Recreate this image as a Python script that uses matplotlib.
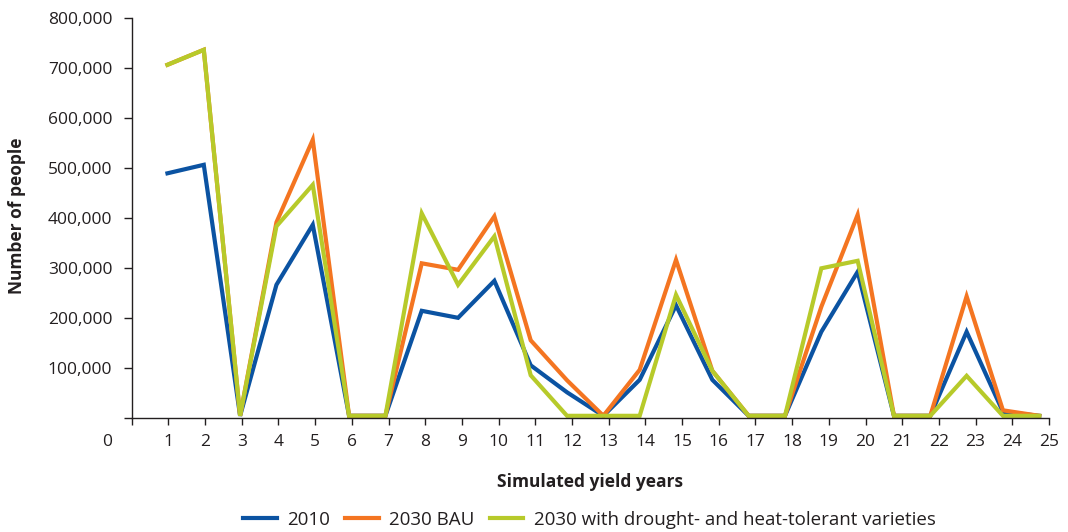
import numpy as np
import matplotlib
matplotlib.use('Agg')
import matplotlib.pyplot as plt
from matplotlib.ticker import FuncFormatter

years = np.arange(1, 26)

people_2010 = [490000, 507000, 5000, 267000, 387000, 5000, 5000, 215000, 201000, 275000,
               106000, 52000, 5000, 77000, 226000, 77000, 5000, 5000, 173000, 293000,
               5000, 5000, 173000, 13000, 5000]
people_2030_bau = [707000, 737000, 5000, 392000, 557000, 5000, 5000, 310000, 297000, 404000,
                   156000, 76000, 5000, 97000, 317000, 95000, 5000, 5000, 223000, 407000,
                   5000, 5000, 244000, 16000, 5000]
people_2030_tol = [707000, 737000, 5000, 384000, 467000, 5000, 5000, 410000, 267000, 364000,
                   86000, 5000, 5000, 5000, 247000, 95000, 5000, 5000, 300000, 315000,
                   5000, 5000, 85000, 5000, 5000]

series_names = ['2010', '2030 BAU', '2030 with drought- and heat-tolerant varieties']
colors = ['#0B53A2', '#F47521', '#B7CA2A']

plt.rcParams['font.family'] = ['Open Sans', 'DejaVu Sans']
text_color = '#231F20'

fig = plt.figure(figsize=(10.68, 5.32), dpi=100)
ax = fig.add_axes([0.1233, 0.2137, 0.8589, 0.7519])

# the original puts the points slightly off the tick marks
plot_x = years * 0.99 - 0.015
for vals, name, c in zip([people_2010, people_2030_bau, people_2030_tol], series_names, colors):
    ax.plot(plot_x, vals, color=c, lw=3, label=name, solid_joinstyle='miter')

ax.set_xlim(0, 25)
ax.set_ylim(0, 800000)
ax.set_xticks(np.arange(0, 26))
ax.set_xticklabels([''] + [str(i) for i in range(1, 26)])
ax.set_yticks(np.arange(0, 800001, 100000))
ax.yaxis.set_major_formatter(FuncFormatter(lambda v, p: '' if v == 0 else f'{int(v):,}'))

for s in ['top', 'right']:
    ax.spines[s].set_visible(False)
for s in ['left', 'bottom']:
    ax.spines[s].set_color(text_color)
    ax.spines[s].set_linewidth(1.0)

ax.tick_params(axis='x', direction='out', length=5, width=1, pad=6, labelsize=12.5,
               colors=text_color)
ax.tick_params(axis='y', direction='out', length=6, width=1, pad=8, labelsize=12.5,
               colors=text_color)

ax.annotate('0', xy=(0, 0), xycoords=('data', 'axes fraction'), xytext=(-18, -11),
            textcoords='offset points', ha='center', va='top', fontsize=12.5, color=text_color)

fig.text(590 / 1068, 1 - 482 / 532, 'Simulated yield years', ha='center', va='center',
         fontsize=12.5, fontweight='bold', color=text_color)
fig.text(17.5 / 1068, 1 - 216 / 532, 'Number of people', ha='center', va='center',
         rotation=90, fontsize=12.5, fontweight='bold', color=text_color)

leg = fig.legend(loc='center', bbox_to_anchor=(589.5 / 1068, 1 - 520 / 532), ncol=3,
                 frameon=False, fontsize=13.5, handlelength=1.8, handletextpad=0.55,
                 columnspacing=0.8, borderaxespad=0)
for t in leg.get_texts():
    t.set_color(text_color)

plt.savefig('out.png', dpi=100)
